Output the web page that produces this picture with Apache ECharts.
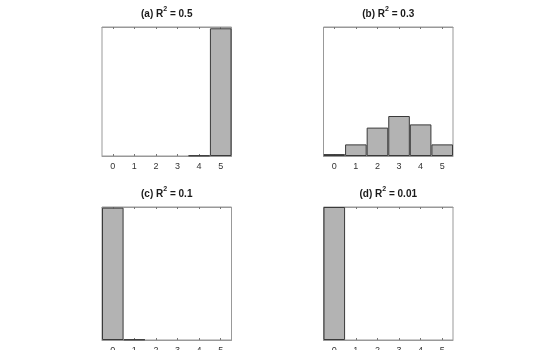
<!DOCTYPE html>
<html><head><meta charset="utf-8">
<script src="https://cdn.jsdelivr.net/npm/echarts@6/dist/echarts.min.js"></script>
<style>html,body{margin:0;padding:0;background:#fff}#c{width:538px;height:350px}</style>
</head><body><div id="c"></div>
<script>
const categories = ['0','1','2','3','4','5'];
const valsA = [0, 0, 0, 0, 0.004, 0.99];
const valsB = [0.015, 0.09, 0.22, 0.31, 0.245, 0.09];
const valsC = [0.995, 0.004, 0, 0, 0, 0];
const valsD = [1.0, 0, 0, 0, 0, 0];
const titles = [['(a) R','2',' = 0.5'],['(b) R','2',' = 0.3'],['(c) R','2',' = 0.1'],['(d) R','2',' = 0.01']];
const allVals = [valsA, valsB, valsC, valsD];

const grids = [
  {left:102, top:27, width:129.5, height:129},
  {left:323.5, top:27, width:129.5, height:129},
  {left:102, top:207, width:129.5, height:133},
  {left:323.5, top:207, width:129.5, height:133}
];
const font = '"Liberation Sans", Arial, sans-serif';
const axisColor = '#999999';
const option = {
  animation:false,
  title: grids.map((g,i)=>({
    text: '{n|'+titles[i][0]+'}{s|'+titles[i][1]+'}{n|'+titles[i][2]+'}',
    left: g.left + g.width/2, top: g.top - 21, textAlign:'center', padding:0,
    textStyle:{rich:{
      n:{fontFamily:font,fontWeight:'bold',fontSize:10,color:'#1a1a1a',verticalAlign:'bottom',lineHeight:13},
      s:{fontFamily:font,fontWeight:'bold',fontSize:7,color:'#1a1a1a',verticalAlign:'top',lineHeight:13,padding:[0,0,6,0]}
    }}
  })),
  grid: grids.map(g=>Object.assign({show:true,borderColor:axisColor,borderWidth:1,backgroundColor:'#fff',containLabel:false,outerBoundsMode:'none'},g)),
  xAxis: [].concat(...grids.map((g,i)=>[
    {type:'category',gridIndex:i,data:categories,position:'bottom',boundaryGap:true,
     axisLine:{show:true,lineStyle:{color:axisColor}},
     axisTick:{show:true,inside:true,alignWithLabel:true,length:2,lineStyle:{color:'#777'}},
     axisLabel:{show:true,fontFamily:font,fontSize:9,color:'#333',margin:6},
     splitLine:{show:false}},
    {type:'category',gridIndex:i,data:categories,position:'top',boundaryGap:true,
     axisLine:{show:true,lineStyle:{color:axisColor}},
     axisTick:{show:true,inside:true,alignWithLabel:true,length:2,lineStyle:{color:'#777'}},
     axisLabel:{show:false},splitLine:{show:false}}
  ])),
  yAxis: grids.map((g,i)=>({type:'value',gridIndex:i,min:0,max:1,
     axisLine:{show:false},axisTick:{show:false},axisLabel:{show:false},splitLine:{show:false}})),
  series: allVals.map((v,i)=>({
    type:'bar',xAxisIndex:i*2,yAxisIndex:i,data:v.map(x=>x===0?null:x),barCategoryGap:'0%',
    itemStyle:{color:'#b3b3b3',borderColor:'#3a3a3a',borderWidth:1}
  }))
};
echarts.init(document.getElementById('c'),null,{renderer:'canvas'}).setOption(option);
</script></body></html>
